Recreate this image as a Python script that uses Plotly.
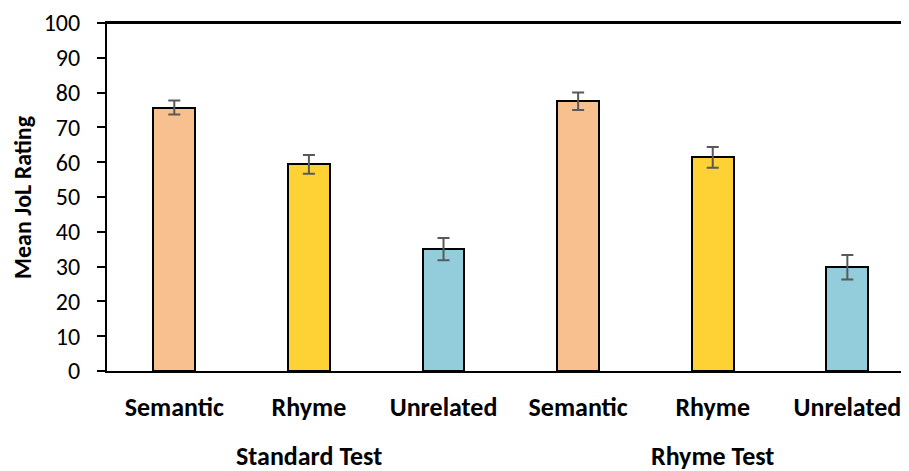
import plotly.graph_objects as go

categories = ["Semantic", "Rhyme", "Unrelated", "Semantic", "Rhyme", "Unrelated"]
groups = ["Standard Test", "Rhyme Test"]
means = [75.7, 59.4, 35.0, 77.5, 61.4, 29.8]
errors = [2.0, 2.7, 3.2, 2.5, 3.0, 3.5]
colors = ["#F9C08F", "#FED135", "#93CDDC", "#F9C08F", "#FED135", "#93CDDC"]
yticks = [0, 10, 20, 30, 40, 50, 60, 70, 80, 90, 100]

FONT = "Carlito, Calibri, Liberation Sans, Arial, sans-serif"
positions = list(range(len(categories)))

fig = go.Figure()
fig.add_trace(go.Bar(
    x=positions, y=means, width=0.31,
    marker=dict(color=colors, line=dict(color="black", width=2)),
    error_y=dict(type="data", array=errors, visible=True,
                 color="#595959", thickness=2, width=6),
    showlegend=False,
))

# page body has an 8px margin, so the figure is shifted by 8px
fig.update_layout(
    width=901, height=463,
    margin=dict(l=99, r=0, t=12, b=100),
    plot_bgcolor="white", paper_bgcolor="white",
    font=dict(family=FONT, color="black"),
    bargap=0,
)
fig.update_xaxes(
    range=[-0.5, 5.458],
    tickmode="array", tickvals=positions, ticktext=categories,
    tickfont=dict(size=26, family=FONT, color="black", weight="bold"),
    showline=True, linecolor="black", linewidth=2, mirror=True,
    ticks="", showgrid=False, zeroline=False,
    ticklabelstandoff=12,
)
fig.update_yaxes(
    range=[0, 100], tickmode="array", tickvals=yticks,
    tickfont=dict(size=24, family=FONT, color="black"),
    showline=True, linecolor="black", linewidth=2,
    ticks="outside", ticklen=8, tickwidth=2, tickcolor="black",
    showgrid=False, zeroline=False,
    ticklabelstandoff=12, ticklabeloverflow="allow",
)

# top border of the plot area at the top of the value range
fig.add_shape(type="line", xref="paper", yref="y", x0=0, x1=1,
              y0=yticks[-1], y1=yticks[-1], line=dict(color="black", width=2))

fig.add_annotation(
    text="<b>Mean JoL Rating</b>", xref="paper", yref="paper",
    x=0, y=0.5, xshift=-85, xanchor="center", yanchor="middle",
    textangle=-90, showarrow=False, font=dict(size=24, family=FONT, color="black"),
)
for gi, g in enumerate(groups):
    fig.add_annotation(
        text=f"<b>{g}</b>", xref="x", yref="paper",
        x=gi * 3 + 1, y=-0.245, xanchor="center", yanchor="middle",
        showarrow=False, font=dict(size=26, family=FONT, color="black"),
    )

fig.write_html("out.html")
